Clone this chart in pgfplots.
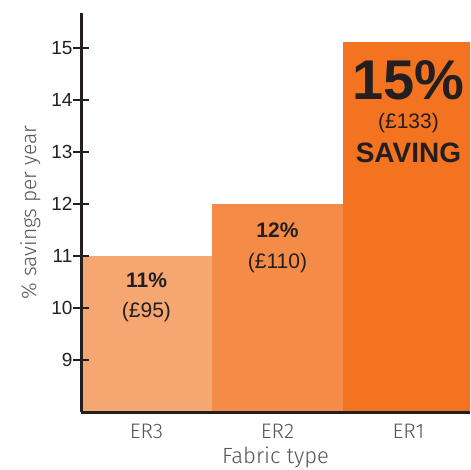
\documentclass[border=0pt]{standalone}
\usepackage{fontspec}
\setmainfont{Liberation Sans}
\newfontfamily\lightfont{Fira Sans Light}
\usepackage{pgfplots}
\pgfplotsset{compat=1.18}

\definecolor{erthree}{RGB}{246,166,112}
\definecolor{ertwo}{RGB}{244,140,72}
\definecolor{erone}{RGB}{243,115,33}
\definecolor{axisblack}{RGB}{35,31,32}
\definecolor{labelgray}{RGB}{85,85,85}

\begin{document}
\begin{tikzpicture}
\begin{axis}[
    scale only axis,
    width=389pt, height=399pt,
    xmin=-0.5, xmax=2.47,
    ymin=8, ymax=15.67,
    axis lines=left,
    axis on top,
    axis line style={axisblack, line width=3pt, -},
    ybar, bar width=131pt,
    xtick={0,1,2},
    xticklabels={ER3,ER2,ER1},
    ytick={9,...,15},
    x tick style={draw=none},
    y tick style={axisblack, line width=2.6pt},
    major tick length=16pt,
    tick align=center,
    /pgf/number format/assume math mode=true,
    yticklabel style={font=\fontsize{19}{21}\selectfont, text=axisblack, xshift=3pt},
    xticklabel style={font=\lightfont\fontsize{21}{23}\selectfont, text=labelgray, yshift=-1pt},
    xlabel={Fabric type},
    ylabel={\% savings per year},
    xlabel style={font=\lightfont\fontsize{22}{24}\selectfont, text=labelgray, yshift=-1pt},
    ylabel style={font=\lightfont\fontsize{21}{24}\selectfont, text=labelgray, yshift=4pt},
    clip=true,
]
\addplot[fill=erthree, draw=none, bar shift=0pt] coordinates {(0,11)};
\addplot[fill=ertwo, draw=none, bar shift=0pt] coordinates {(1,12)};
\addplot[fill=erone, draw=none, bar shift=0pt] coordinates {(2,15.12)};

\node[text=axisblack, font=\bfseries\fontsize{21}{24}\selectfont] at (axis cs:0,10.54) {11\%};
\node[text=axisblack, font=\fontsize{21}{24}\selectfont] at (axis cs:0,9.92) {(£95)};
\node[text=axisblack, font=\bfseries\fontsize{21}{24}\selectfont] at (axis cs:1,11.5) {12\%};
\node[text=axisblack, font=\fontsize{21}{24}\selectfont] at (axis cs:1,10.87) {(£110)};
\node[text=axisblack, font=\bfseries\fontsize{56}{60}\selectfont] at (axis cs:2,14.38) {15\%};
\node[text=axisblack, font=\fontsize{21}{24}\selectfont] at (axis cs:2,13.56) {(£133)};
\node[text=axisblack, font=\bfseries\fontsize{28}{30}\selectfont] at (axis cs:2,12.98) {SAVING};
\end{axis}
\pgfresetboundingbox
\path (current axis.south west) ++(-81pt,-58pt) rectangle ++(470pt,470pt);
\end{tikzpicture}
\end{document}
